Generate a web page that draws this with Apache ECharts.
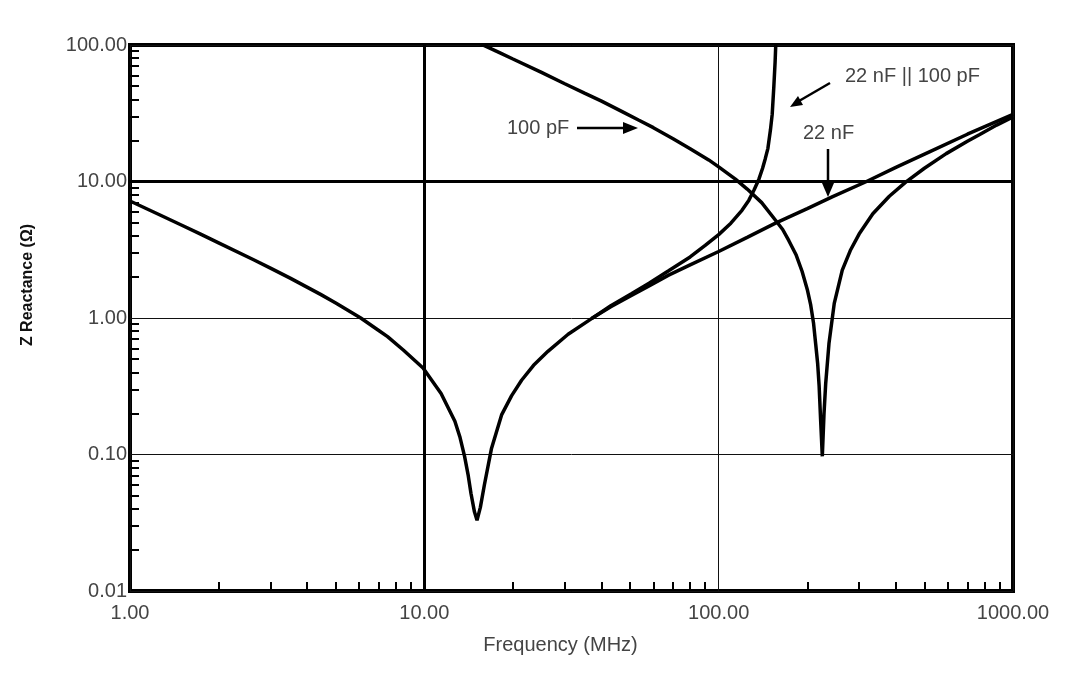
<!DOCTYPE html>
<html>
<head>
<meta charset="utf-8">
<title>Z Reactance vs Frequency</title>
<script src="https://cdn.jsdelivr.net/npm/echarts@6/dist/echarts.min.js"></script>
<style>
  html, body { margin: 0; padding: 0; background: #fff; }
  #chart { width: 1080px; height: 674px; }
</style>
</head>
<body>
<div id="chart"></div>
<script>
// frequency in MHz, |Z| in ohm
const cap22nF_freq = [1, 1.27, 1.5, 1.73, 2, 2.63, 3, 3.5, 4.44, 5, 6.08, 7, 7.5, 8.5, 9.9, 11.4, 12.7, 13.2, 13.7, 14.1, 14.4, 14.8, 15.1, 15.5, 16.0, 16.9, 18.3, 19.8, 21.4, 23.5, 26.3, 30.8, 37, 43, 50.7, 58, 67.6, 80, 100, 125, 156, 200, 244, 318, 400, 520, 700, 1000];
const cap22nF_z = [7.2, 5.66, 4.78, 4.13, 3.55, 2.67, 2.32, 1.96, 1.49, 1.29, 1.0, 0.81, 0.73, 0.58, 0.43, 0.28, 0.175, 0.135, 0.097, 0.07, 0.052, 0.038, 0.033, 0.041, 0.06, 0.11, 0.195, 0.27, 0.35, 0.45, 0.57, 0.76, 0.99, 1.21, 1.47, 1.72, 2.06, 2.45, 3.07, 3.9, 4.95, 6.33, 7.75, 10, 12.7, 16.5, 22.2, 31];

const cap100pF_freq = [15.4, 16, 18, 20, 25, 30, 35, 40, 47, 53.4, 60, 70, 80, 92.5, 100, 114, 125, 140, 156, 165, 173, 183, 192, 200, 205.5, 210, 213.7, 217, 219.4, 222, 225, 228, 231, 237, 247, 263, 280, 300, 334, 380, 432, 500, 593, 700, 771, 880, 1000];
const cap100pF_z = [103, 99, 88, 79, 63, 52, 44.4, 38.8, 32.5, 28.2, 24.8, 20.6, 17.4, 14.4, 12.8, 10.4, 8.8, 7.0, 5.2, 4.45, 3.7, 2.92, 2.2, 1.62, 1.24, 0.92, 0.64, 0.46, 0.32, 0.18, 0.097, 0.2, 0.33, 0.65, 1.28, 2.24, 3.12, 4.12, 5.8, 7.8, 9.9, 12.5, 16.0, 19.7, 22.1, 25.9, 29.7];

const parallel_freq = [37, 43, 50.7, 58, 67.6, 80, 90, 100, 110, 120, 126.7, 132, 137, 141, 144, 147, 150, 152, 154, 155.5, 156.3, 157];
const parallel_z = [0.99, 1.23, 1.51, 1.8, 2.22, 2.8, 3.4, 4.08, 4.95, 6.15, 7.3, 8.7, 10.4, 12.5, 14.7, 17.5, 24, 31, 50, 75, 100, 130];

const xMajorTicks = [1, 10, 100, 1000];
const yMajorTicks = [0.01, 0.1, 1, 10, 100];
const xMinorTicks = [2, 3, 4, 5, 6, 7, 8, 9, 20, 30, 40, 50, 60, 70, 80, 90, 200, 300, 400, 500, 600, 700, 800, 900];
const yMinorTicks = [0.02, 0.03, 0.04, 0.05, 0.06, 0.07, 0.08, 0.09, 0.2, 0.3, 0.4, 0.5, 0.6, 0.7, 0.8, 0.9,
  2, 3, 4, 5, 6, 7, 8, 9, 20, 30, 40, 50, 60, 70, 80, 90];

const zip = (xs, ys) => xs.map((x, i) => [x, ys[i]]);

const FONT = '"Liberation Sans", Arial, sans-serif';
const curveStyle = { color: '#000', width: 3.5 };

let option = {
  backgroundColor: '#fff',
  animation: false,
  grid: {
    left: 130, right: 67, top: 45, bottom: 83,
    show: true,
    borderColor: '#000',
    borderWidth: 4,
    backgroundColor: 'transparent',
  },
  xAxis: [
    {
      type: 'log', logBase: 10, min: 1, max: 1000,
      name: 'Frequency (MHz)', nameLocation: 'middle', nameGap: 44,
      nameTextStyle: { fontFamily: FONT, fontSize: 20, color: '#444', padding: [0, 22, 0, 0] },
      axisLine: { show: false },
      axisTick: { show: false },
      axisLabel: {
        customValues: xMajorTicks,
        margin: 12, fontFamily: FONT, fontSize: 20, color: '#444',
        formatter: (v) => v.toFixed(2),
      },
      splitLine: { show: true, lineStyle: { color: '#111', width: 1 } },
    },
    {
      // minor ticks only
      type: 'log', logBase: 10, min: 1, max: 1000, position: 'bottom',
      axisLine: { show: false },
      axisLabel: { show: false },
      splitLine: { show: false },
      axisTick: { show: true, inside: true, length: 9, customValues: xMinorTicks, lineStyle: { color: '#000', width: 2 } },
    },
  ],
  yAxis: [
    {
      type: 'log', logBase: 10, min: 0.01, max: 100,
      axisLine: { show: false },
      axisTick: { show: false },
      axisLabel: {
        customValues: yMajorTicks,
        margin: 3, fontFamily: FONT, fontSize: 20, color: '#444',
        formatter: (v) => v.toFixed(2),
      },
      splitLine: { show: true, lineStyle: { color: '#111', width: 1 } },
    },
    {
      type: 'log', logBase: 10, min: 0.01, max: 100, position: 'left',
      axisLine: { show: false },
      axisLabel: { show: false },
      splitLine: { show: false },
      axisTick: { show: true, inside: true, length: 9, customValues: yMinorTicks, lineStyle: { color: '#000', width: 2 } },
    },
  ],
  series: [
    {
      name: '22 nF', type: 'line', symbol: 'none', smooth: false,
      data: zip(cap22nF_freq, cap22nF_z),
      lineStyle: curveStyle,
      markLine: {
        silent: true, symbol: 'none', label: { show: false },
        lineStyle: { color: '#000', width: 3, type: 'solid' },
        data: [{ xAxis: 10 }, { yAxis: 10 }],
      },
    },
    {
      name: '100 pF', type: 'line', symbol: 'none', smooth: false,
      data: zip(cap100pF_freq, cap100pF_z),
      lineStyle: curveStyle,
    },
    {
      name: '22 nF || 100 pF', type: 'line', symbol: 'none', smooth: false,
      data: zip(parallel_freq, parallel_z),
      lineStyle: curveStyle,
    },
  ],
  graphic: [
    // y axis title, sits a bit above the middle in the original
    { type: 'text', x: 28, y: 285, rotation: Math.PI / 2,
      style: { text: 'Z Reactance (\u03A9)', font: 'bold 16px ' + FONT, fill: '#111', align: 'center', verticalAlign: 'middle' } },

    { type: 'text', x: 507, y: 128, style: { text: '100 pF', font: '20px ' + FONT, fill: '#444', verticalAlign: 'middle' } },
    { type: 'line', shape: { x1: 577, y1: 128, x2: 626, y2: 128 }, style: { stroke: '#000', lineWidth: 2.5 } },
    { type: 'polygon', shape: { points: [[638, 128], [623, 122], [623, 134]] }, style: { fill: '#000' } },

    { type: 'text', x: 845, y: 76, style: { text: '22 nF || 100 pF', font: '20px ' + FONT, fill: '#444', verticalAlign: 'middle' } },
    { type: 'line', shape: { x1: 830, y1: 83, x2: 799, y2: 101 }, style: { stroke: '#000', lineWidth: 2.5 } },
    { type: 'polygon', shape: { points: [[790, 107], [803, 105], [798, 96]] }, style: { fill: '#000' } },

    { type: 'text', x: 803, y: 133, style: { text: '22 nF', font: '20px ' + FONT, fill: '#444', verticalAlign: 'middle' } },
    { type: 'line', shape: { x1: 828, y1: 149, x2: 828, y2: 186 }, style: { stroke: '#000', lineWidth: 2.5 } },
    { type: 'polygon', shape: { points: [[828, 197], [822, 183], [834, 183]] }, style: { fill: '#000' } },
  ],
};

let myChart = echarts.init(document.getElementById('chart'));
myChart.setOption(option);
</script>
</body>
</html>
